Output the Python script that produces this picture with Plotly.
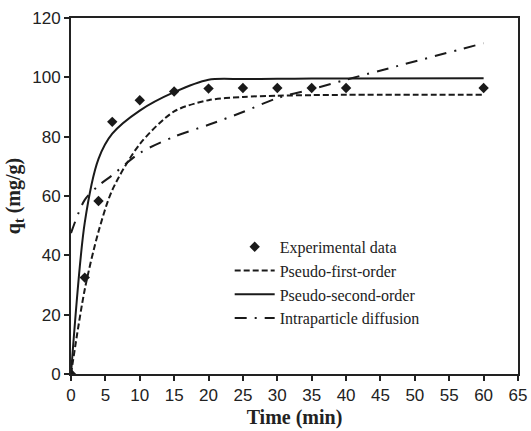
import plotly.graph_objects as go

time_min = [0, 2, 4, 6, 10, 15, 20, 25, 30, 35, 40, 60]
experimental = [0, 32.5, 58.3, 85.0, 92.3, 95.2, 96.2, 96.4, 96.4, 96.4, 96.4, 96.4]
pseudo_first = [0, 28.5, 48.0, 62.0, 77.5, 88.5, 92.3, 93.4, 93.8, 94.0, 94.1, 94.1]
pseudo_second = [0, 51.0, 72.5, 81.0, 88.8, 95.0, 99.2, 99.4, 99.5, 99.6, 99.6, 99.7]
intraparticle = [47.5, 58.7, 63.5, 67.0, 74.5, 80.0, 84.0, 88.3, 93.0, 96.0, 99.2, 111.5]

x_ticks = list(range(0, 66, 5))
y_ticks = list(range(0, 121, 20))

ink = "#1a1a1a"
serif = "Liberation Serif, Times New Roman, serif"
sans = "Liberation Sans, Arial, sans-serif"

fig = go.Figure()
fig.add_trace(go.Scatter(
    x=time_min, y=experimental, mode="markers", name="Experimental data",
    marker=dict(symbol="diamond", size=8, color=ink),
))
fig.add_trace(go.Scatter(
    x=time_min, y=pseudo_first, mode="lines", name="Pseudo-first-order",
    line=dict(color=ink, width=2, dash="6px,3px", shape="spline", smoothing=0.8),
))
fig.add_trace(go.Scatter(
    x=time_min, y=pseudo_second, mode="lines", name="Pseudo-second-order",
    line=dict(color=ink, width=2, shape="spline", smoothing=0.8),
))
fig.add_trace(go.Scatter(
    x=time_min, y=intraparticle, mode="lines", name="Intraparticle diffusion",
    line=dict(color=ink, width=2, dash="12px,8px,2px,8px", shape="spline", smoothing=0.8),
))

axis_common = dict(
    showgrid=False, zeroline=False, showline=True, linecolor="#222222", linewidth=2,
    mirror=True, ticks="outside", tickcolor="#222222", tickwidth=1.5, automargin=False,
    tickfont=dict(family=sans, size=17, color="#222222"),
)

fig.update_layout(
    width=531, height=431,
    margin=dict(l=71, r=13, t=18, b=57, pad=0),
    paper_bgcolor="white", plot_bgcolor="white",
    showlegend=True,
    legend=dict(
        x=0.355, y=0.405, xanchor="left", yanchor="top",
        bgcolor="rgba(0,0,0,0)", borderwidth=0,
        font=dict(family=serif, size=16, color="#222222"),
        tracegroupgap=0, itemwidth=40,
    ),
    xaxis=dict(
        range=[0, 65], tickvals=x_ticks, ticklen=5,
        title=dict(text="<b>Time (min)</b>", standoff=6,
                   font=dict(family=serif, size=20, color="#222222")),
        **axis_common,
    ),
    yaxis=dict(
        range=[0, 120], tickvals=y_ticks, ticklen=5,
        title=dict(text="<b>q<sub>t</sub> (mg/g)</b>", standoff=6,
                   font=dict(family=serif, size=20, color="#222222")),
        **axis_common,
    ),
)

fig.write_html(
    "out.html",
    config={"displayModeBar": False},
    post_script="document.body.style.margin='0';document.body.style.padding='0';",
)
